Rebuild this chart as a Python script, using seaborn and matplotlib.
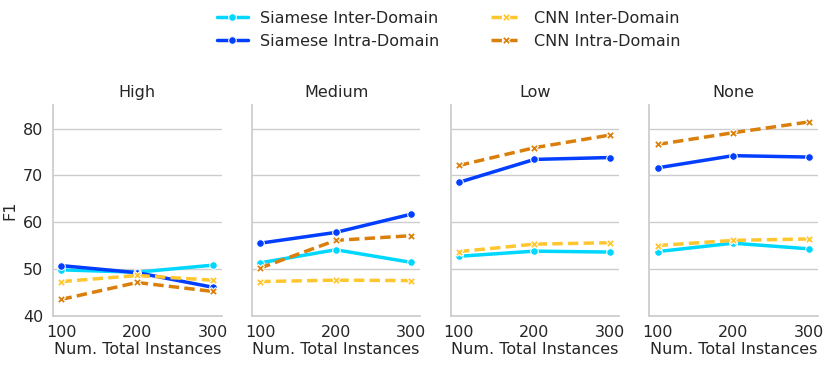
import matplotlib
matplotlib.use("Agg")
import matplotlib.pyplot as plt
import numpy as np
import seaborn as sns
import pandas as pd

levels = ['High', 'Medium', 'Low', 'None']
instances = [100, 200, 300]
models = ['Siamese Inter-Domain', 'Siamese Intra-Domain', 'CNN Inter-Domain', 'CNN Intra-Domain']

siamese_inter = {'High': [49.8, 49.3, 50.8], 'Medium': [51.3, 54.1, 51.4],
                 'Low': [52.7, 53.8, 53.6], 'None': [53.7, 55.5, 54.3]}
siamese_intra = {'High': [50.7, 49.2, 46.1], 'Medium': [55.5, 57.8, 61.7],
                 'Low': [68.5, 73.4, 73.8], 'None': [71.6, 74.2, 73.9]}
cnn_inter = {'High': [47.3, 48.6, 47.6], 'Medium': [47.3, 47.6, 47.5],
             'Low': [53.7, 55.3, 55.6], 'None': [55.0, 56.1, 56.4]}
cnn_intra = {'High': [43.5, 47.1, 45.2], 'Medium': [50.2, 56.1, 57.1],
             'Low': [72.1, 75.9, 78.6], 'None': [76.6, 79.1, 81.4]}

series = dict(zip(models, [siamese_inter, siamese_intra, cnn_inter, cnn_intra]))
rows = []
for m, d in series.items():
    for lv in levels:
        for n, v in zip(instances, d[lv]):
            rows.append([m, lv, n, v])
df = pd.DataFrame(rows, columns=['Model', 'Level', 'Num. Total Instances', 'F1'])

palette = {'Siamese Inter-Domain': '#00d7ff', 'Siamese Intra-Domain': '#023eff',
           'CNN Inter-Domain': '#ffc62e', 'CNN Intra-Domain': '#d97f0a'}
markers = {'Siamese Inter-Domain': 'o', 'Siamese Intra-Domain': 'o',
           'CNN Inter-Domain': 'X', 'CNN Intra-Domain': 'X'}
dashes = {'Siamese Inter-Domain': '', 'Siamese Intra-Domain': '',
          'CNN Inter-Domain': (3, 1.5), 'CNN Intra-Domain': (3, 1.5)}

fs = 11.5
sns.set_theme(style='whitegrid')
plt.rcParams['font.family'] = ['DejaVu Sans']
fig, axes = plt.subplots(1, 4, figsize=(8.31, 3.65), dpi=100, sharey=True)
fig.subplots_adjust(left=0.064, right=0.984, bottom=0.135, top=0.712, wspace=0.18)

for ax, lv in zip(axes, levels):
    sub = df[df['Level'] == lv]
    sns.lineplot(data=sub, x='Num. Total Instances', y='F1', hue='Model', style='Model',
                 hue_order=models, style_order=models, palette=palette,
                 markers=markers, dashes=dashes, linewidth=2.5, markersize=5.5,
                 ax=ax, legend=(lv == 'High'))
    ax.set_title(lv, fontsize=fs)
    ax.set_ylim(40, 85)
    ax.set_yticks([40, 50, 60, 70, 80])
    ax.set_xticks(instances)
    ax.set_xlim(89, 312)
    ax.grid(axis='x', visible=False)
    ax.tick_params(labelsize=fs, pad=1)
    ax.set_xlabel('Num. Total Instances', fontsize=fs, labelpad=1)
    ax.set_ylabel('F1' if lv == 'High' else '', fontsize=fs, labelpad=4)
    sns.despine(ax=ax)

handles, labels = axes[0].get_legend_handles_labels()
axes[0].get_legend().remove()
fig.legend(handles, labels, loc='upper center', bbox_to_anchor=(0.54, 1.01), ncol=2,
           frameon=False, fontsize=fs, handlelength=1.9, columnspacing=3.2,
           labelspacing=0.5)

fig.savefig('out.png', dpi=100)
